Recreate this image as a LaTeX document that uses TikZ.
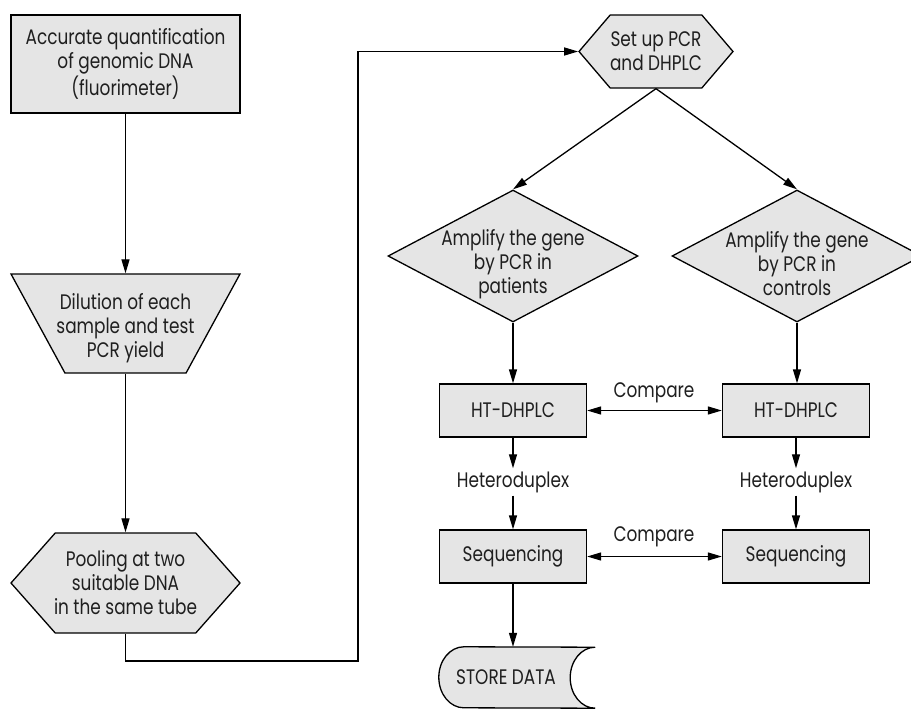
\documentclass[tikz,border=0pt]{standalone}
\usepackage{fontspec}
\setmainfont{Poppins}[FakeStretch=0.805]
\usetikzlibrary{shapes.geometric,shapes.symbols,arrows.meta}
\definecolor{boxgray}{gray}{0.9}
\definecolor{inkgray}{gray}{0.12}

\begin{document}
\begin{tikzpicture}[x=1pt,y=1pt,
  every node/.style={font=\fontsize{21pt}{24pt}\selectfont, align=center, text=inkgray},
  shapefill/.style={draw, fill=boxgray, line width=1.3pt},
  stepbox/.style={shapefill, rectangle, inner sep=0pt},
  flow/.style={-{Triangle[length=14pt,width=8pt]}, line width=1.3pt},
  twoway/.style={{Triangle[length=14pt,width=8pt]}-{Triangle[length=14pt,width=8pt]}, line width=1.3pt}]
\useasboundingbox (0,0) rectangle (911,-709);

% left column
\node [stepbox, minimum width=229pt, minimum height=98pt] (quant) at (125.5,-64)
  {Accurate quantification\\of genomic DNA\\(fluorimeter)};
\node [shapefill, trapezium, shape border rotate=180, trapezium left angle=66,
  trapezium right angle=66, trapezium stretches=true, minimum width=229pt,
  minimum height=99pt, inner sep=1pt,
  label={[yshift=-5pt]center:Dilution of each\\sample and test\\PCR yield}] (dilut) at (125.5,-323.5) {};
\node [shapefill, signal, signal to=west and east, signal pointer angle=97,
  minimum width=229pt, minimum height=100pt, inner sep=1pt,
  label=center:{Pooling at two\\suitable DNA\\in the same tube}] (pool) at (125.5,-583) {};
\coordinate (turn) at (358,-661);

% right part
\node [shapefill, signal, signal to=west and east, signal pointer angle=99,
  minimum width=154pt, minimum height=73pt, inner sep=1pt,
  label=center:{Set up PCR\\and DHPLC}] (setup) at (656,-51.5) {};
\node [shapefill, diamond, minimum width=250pt, minimum height=132pt, inner sep=1pt,
  label={[yshift=-8pt]center:Amplify the gene\\by PCR in\\patients}] (ampP) at (513,-256) {};
\node [shapefill, diamond, minimum width=250pt, minimum height=132pt, inner sep=1pt,
  label={[yshift=-8pt]center:Amplify the gene\\by PCR in\\controls}] (ampC) at (797,-256) {};
\node [stepbox, minimum width=147pt, minimum height=53pt] (htP) at (513,-410.5) {HT-DHPLC};
\node [stepbox, minimum width=147pt, minimum height=53pt] (htC) at (796,-410.5) {HT-DHPLC};
\node [inner sep=3pt] (hetP) at (513,-482) {Heteroduplex};
\node [inner sep=3pt] (hetC) at (796,-482) {Heteroduplex};
\node [stepbox, minimum width=147pt, minimum height=53pt] (seqP) at (513,-556.5) {Sequencing};
\node [stepbox, minimum width=147pt, minimum height=53pt] (seqC) at (796,-556.5) {Sequencing};
\node [inner sep=0pt, minimum width=134pt, minimum height=61pt] (store) at (506,-677.5) {};
\draw [shapefill] ([xshift=25pt]store.north west)
  arc [start angle=90, end angle=270, x radius=25, y radius=30.5]
  -- ([xshift=22pt]store.south east)
  arc [start angle=270, end angle=90, x radius=25, y radius=30.5] -- cycle;
\node at (store) {STORE DATA};
\node (cmp1) at (654,-393) {Compare};
\node (cmp2) at (654,-537) {Compare};

% connectors
\draw [flow] (quant) -- (dilut);
\draw [flow] (dilut) -- (pool);
\draw [flow] (pool.south) |- (turn) |- (setup.west);
\draw [flow] (setup.south) -- (ampP.north);
\draw [flow] (setup.south) -- (ampC.north);
\draw [flow] (ampP.south) -- (htP);
\draw [flow] (ampC.south) -- (ampC.south |- htC.north);
\draw [flow] (htP) -- (hetP);
\draw [flow] (htC) -- (hetC);
\draw [flow] (hetP) -- (seqP);
\draw [flow] (hetC) -- (seqC);
\draw [flow] (seqP.south) -- (seqP.south |- store.north);
\draw [twoway] (htP) -- (htC);
\draw [twoway] (seqP) -- (seqC);
\end{tikzpicture}
\end{document}
